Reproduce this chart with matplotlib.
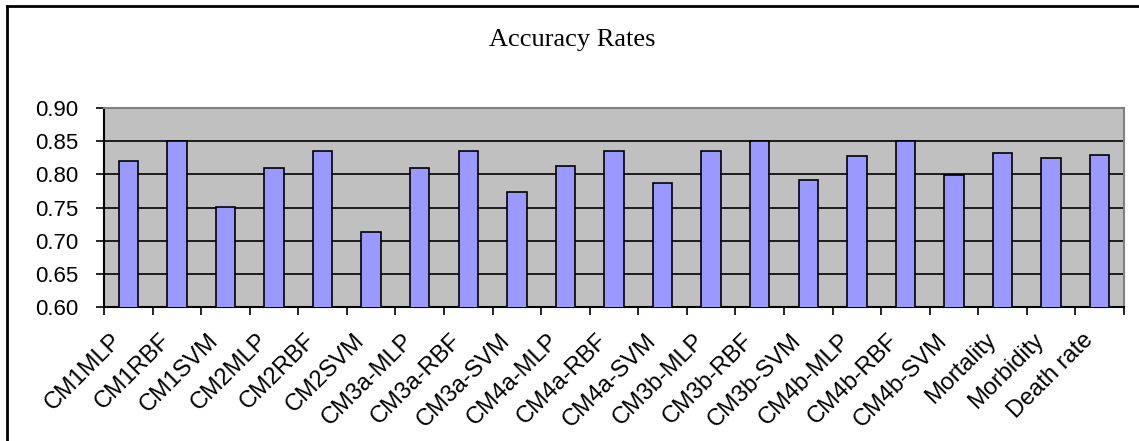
import numpy as np
import matplotlib.pyplot as plt
from matplotlib.lines import Line2D
from matplotlib.transforms import ScaledTranslation

models = ['CM1MLP', 'CM1RBF', 'CM1SVM', 'CM2MLP', 'CM2RBF', 'CM2SVM',
          'CM3a-MLP', 'CM3a-RBF', 'CM3a-SVM', 'CM4a-MLP', 'CM4a-RBF', 'CM4a-SVM',
          'CM3b-MLP', 'CM3b-RBF', 'CM3b-SVM', 'CM4b-MLP', 'CM4b-RBF', 'CM4b-SVM',
          'Mortality', 'Morbidity', 'Death rate']
accuracy = [0.820, 0.850, 0.751, 0.809, 0.835, 0.713,
            0.809, 0.835, 0.774, 0.812, 0.835, 0.787,
            0.835, 0.850, 0.792, 0.827, 0.850, 0.799,
            0.832, 0.824, 0.829]
yticks = [0.60, 0.65, 0.70, 0.75, 0.80, 0.85, 0.90]

fig = plt.figure(figsize=(11.39, 4.41), dpi=100)
ax = fig.add_axes([104 / 1139, 1 - 307 / 441, 1020 / 1139, 199 / 441])

x = np.arange(len(models))
ax.set_facecolor('#C0C0C0')
ax.bar(x, accuracy, width=0.4, color='#9999FF', edgecolor='black',
       linewidth=1.2, zorder=3)

ax.set_ylim(0.60, 0.90)
ax.set_xlim(-0.5, len(models) - 0.5)
ax.set_yticks(yticks)
ax.set_yticklabels([f'{v:.2f}' for v in yticks], fontfamily='Liberation Sans',
                   fontsize=16)
for v in yticks[1:-1]:
    ax.axhline(v, color='black', linewidth=1.2, zorder=2)

# category labels sit between boundary ticks
ax.set_xticks(x)
ax.set_xticklabels(models, rotation=45, ha='right', va='top',
                   rotation_mode='anchor', fontfamily='Liberation Sans',
                   fontsize=17)
ax.tick_params(axis='x', length=0, pad=16)
shift = ScaledTranslation(-18 / 100, 0, fig.dpi_scale_trans)
for lab in ax.get_xticklabels():
    lab.set_transform(lab.get_transform() + shift)
ax.set_xticks(np.arange(len(models) + 1) - 0.5, minor=True)
ax.tick_params(axis='x', which='minor', length=6, width=1.2, direction='out')
ax.tick_params(axis='y', length=6, width=1.2, direction='out', pad=12.5)

for side in ['left', 'bottom']:
    ax.spines[side].set_color('black')
    ax.spines[side].set_linewidth(1.5)
for side in ['top', 'right']:
    ax.spines[side].set_color('#808080')
    ax.spines[side].set_linewidth(1.5)

fig.text(572 / 1139, 1 - 40 / 441, 'Accuracy Rates', ha='center', va='center',
         fontfamily='Liberation Serif', fontsize=19)

# chart frame
fig.add_artist(Line2D([7 / 1139, 7 / 1139], [0, 1 - 6 / 441],
                      transform=fig.transFigure, color='black', linewidth=2))
fig.add_artist(Line2D([7 / 1139, 1], [1 - 6 / 441, 1 - 6 / 441],
                      transform=fig.transFigure, color='black', linewidth=2))

fig.savefig('out.png', dpi=100)
